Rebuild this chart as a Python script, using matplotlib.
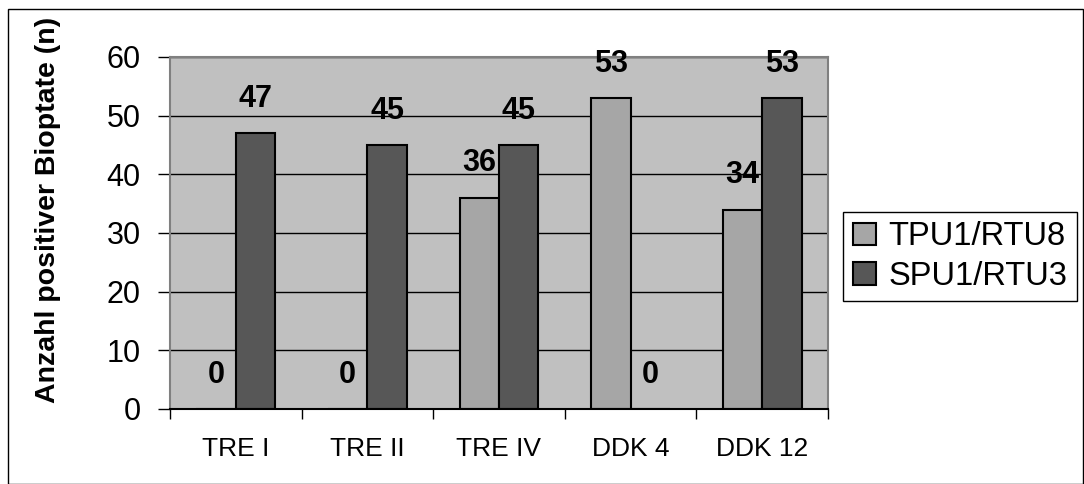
import numpy as np
import matplotlib.pyplot as plt
from matplotlib.patches import Rectangle

plt.rcParams["font.family"] = ["Liberation Sans", "DejaVu Sans"]

categories = ["TRE I", "TRE II", "TRE IV", "DDK 4", "DDK 12"]
tpu1_rtu8 = [0, 0, 36, 53, 34]
spu1_rtu3 = [47, 45, 45, 0, 53]
series_names = ["TPU1/RTU8", "SPU1/RTU3"]

fig = plt.figure(figsize=(10.84, 4.84), dpi=100)
ax = fig.add_axes([170 / 1084, 75 / 484, 658 / 1084, 352 / 484])

# outer chart border
fig.patches.append(Rectangle((8 / 1084, 0.5 / 484), 1075 / 1084, 475 / 484,
                             transform=fig.transFigure, fill=False,
                             edgecolor="black", linewidth=1))

x = np.arange(len(categories))
w = 0.3
ax.set_facecolor("#c0c0c0")
ax.set_axisbelow(True)
ax.grid(axis="y", color="black", linewidth=1)

b1 = ax.bar(x - w / 2, tpu1_rtu8, w, color="#a6a6a6", edgecolor="black",
            linewidth=1.5, label=series_names[0])
b2 = ax.bar(x + w / 2, spu1_rtu3, w, color="#575757", edgecolor="black",
            linewidth=1.5, label=series_names[1])

for bars, vals in ((b1, tpu1_rtu8), (b2, spu1_rtu3)):
    for bar, v in zip(bars, vals):
        ax.annotate(str(v), (bar.get_x() + bar.get_width() / 2, v),
                    xytext=(0, 14), textcoords="offset points",
                    ha="center", va="bottom", fontsize=22, fontweight="bold")

ax.set_xlim(-0.5, len(categories) - 0.5)
ax.set_ylim(0, 60)
ax.set_yticks(range(0, 61, 10))
ax.tick_params(axis="y", labelsize=22, length=9, width=1, pad=12)

ax.set_xticks(x)
ax.set_xticklabels(categories, fontsize=19)
ax.set_xticks(np.arange(-0.5, len(categories), 1), minor=True)
ax.tick_params(axis="x", which="major", length=0, pad=20)
ax.tick_params(axis="x", which="minor", length=7, width=1)

for s in ("top", "right", "left"):
    ax.spines[s].set_color("#808080")
    ax.spines[s].set_linewidth(1.5)
ax.spines["bottom"].set_color("black")
ax.spines["bottom"].set_linewidth(1.5)

ax.set_ylabel("Anzahl positiver Bioptate (n)", fontsize=20.5, fontweight="bold")
ax.yaxis.set_label_coords(-0.166, 0.565)

fig.legend(loc="center left", bbox_to_anchor=(843 / 1084, 0.47), fontsize=23.5,
           frameon=True, fancybox=False, edgecolor="black", framealpha=1,
           handlelength=0.7, handleheight=0.7, handletextpad=0.4,
           borderpad=0.3, labelspacing=0.25, borderaxespad=0)

fig.savefig("out.png", dpi=100)
